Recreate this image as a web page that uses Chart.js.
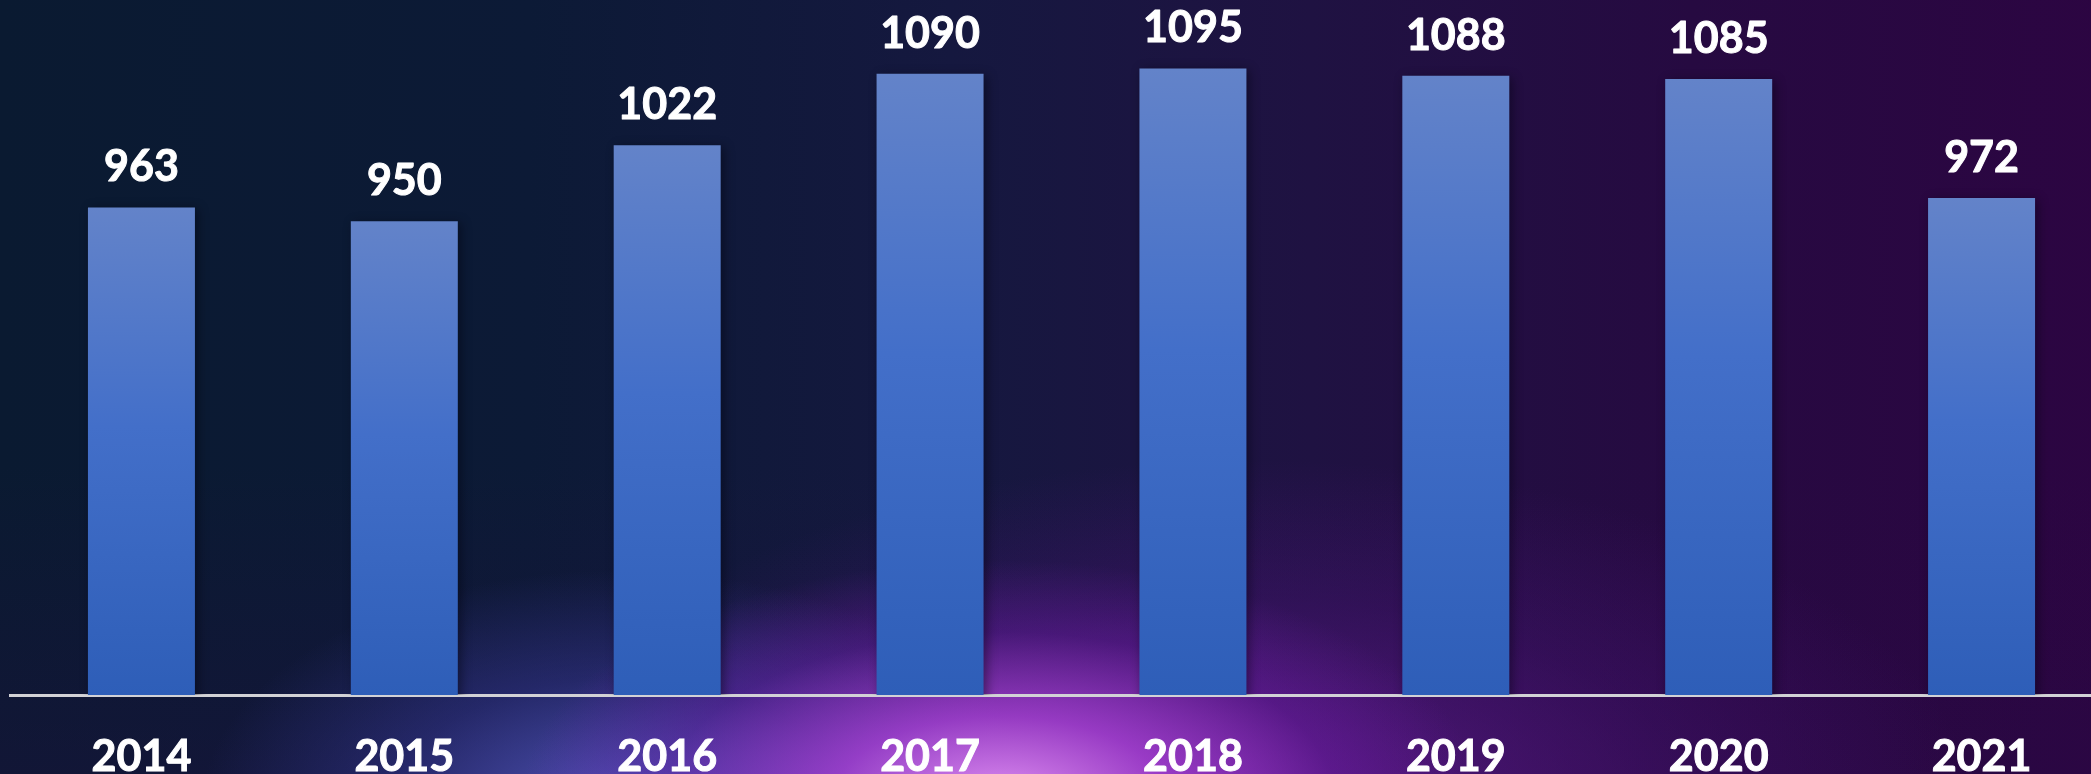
<!DOCTYPE html>
<html>
<head>
<meta charset="utf-8">
<script src="https://cdn.jsdelivr.net/npm/chart.js@4.4.1/dist/chart.umd.min.js"></script>
<style>
  html, body { margin: 0; padding: 0; width: 2091px; height: 774px; overflow: hidden; background: #0b1a32; }
  #wrap {
    position: absolute; left: 0; top: 0; width: 2114px; height: 774px;
    background:
      radial-gradient(ellipse 480px 240px at 1000px 800px, rgba(232,150,250,0.95) 0%, rgba(180,70,225,0.75) 35%, rgba(120,30,180,0.35) 70%, rgba(90,20,150,0) 100%),
      radial-gradient(ellipse 420px 240px at 620px 810px, rgba(95,100,215,0.8) 0%, rgba(65,65,175,0.4) 55%, rgba(40,40,140,0) 100%),
      radial-gradient(ellipse 720px 340px at 1250px 800px, rgba(120,30,170,0.6) 0%, rgba(90,20,140,0.28) 60%, rgba(60,10,100,0) 100%),
      linear-gradient(to bottom, rgba(0,0,0,0) 60%, rgba(40,10,70,0.25) 100%),
      linear-gradient(to right, #0a1a31 0%, #0c1a36 25%, #15183f 45%, #1f1242 62%, #260a41 80%, #2c0542 100%);
  }
  canvas { display: block; }
</style>
</head>
<body>
<div id="wrap"><canvas id="chart" width="2114" height="774"></canvas></div>
<script>
// Years shown along the axis and the count recorded for each year
const years = ['2014', '2015', '2016', '2017', '2018', '2019', '2020', '2021'];
const counts = [963, 950, 1022, 1090, 1095, 1088, 1085, 972];

const labelFont = { family: 'Lato, "Open Sans", sans-serif', weight: 'bold', size: 43 };

// Vertical blue gradient for each bar, lighter at the top
function barGradient(ctx) {
  const chart = ctx.chart;
  const y = chart.scales && chart.scales.y;
  if (!chart.chartArea || !y || ctx.raw === undefined) return '#4a74c8';
  const top = y.getPixelForValue(ctx.raw);
  const bottom = chart.chartArea.bottom;
  const g = chart.ctx.createLinearGradient(0, top, 0, bottom);
  g.addColorStop(0, '#6383c9');
  g.addColorStop(0.45, '#436fc9');
  g.addColorStop(1, '#2e5eb8');
  return g;
}

// Soft shadow behind the bars
const barShadow = {
  id: 'barShadow',
  beforeDatasetsDraw(chart) {
    const c = chart.ctx;
    c.save();
    c.shadowColor = 'rgba(0,0,10,0.45)';
    c.shadowBlur = 10;
    c.shadowOffsetX = 3;
    c.shadowOffsetY = 2;
  },
  afterDatasetsDraw(chart) {
    chart.ctx.restore();
  }
};

// Value written above each bar, with a thin outline to give heavier strokes
const valueLabels = {
  id: 'valueLabels',
  afterDatasetsDraw(chart) {
    const c = chart.ctx;
    const meta = chart.getDatasetMeta(0);
    const data = chart.data.datasets[0].data;
    c.save();
    c.fillStyle = '#ffffff';
    c.strokeStyle = '#ffffff';
    c.lineWidth = 1;
    c.lineJoin = 'round';
    c.font = `${labelFont.weight} ${labelFont.size}px ${labelFont.family}`;
    c.textAlign = 'center';
    c.textBaseline = 'alphabetic';
    meta.data.forEach((bar, i) => {
      c.fillText(String(data[i]), bar.x, bar.y - 26);
      c.strokeText(String(data[i]), bar.x, bar.y - 26);
    });
    c.restore();
  }
};

new Chart(document.getElementById('chart'), {
  type: 'bar',
  data: {
    labels: years,
    datasets: [{
      data: counts,
      backgroundColor: barGradient,
      borderWidth: 0,
      barPercentage: 1,
      categoryPercentage: 0.407
    }]
  },
  options: {
    responsive: false,
    animation: false,
    layout: { padding: { left: 10, right: 1, top: 0, bottom: 0 } },
    plugins: { legend: { display: false }, tooltip: { enabled: false } },
    scales: {
      y: {
        display: false,
        min: 500,
        max: 1160
      },
      x: {
        grid: { display: false, drawTicks: false },
        border: { display: true, color: '#d2d2d6', width: 3 },
        ticks: { color: '#ffffff', font: labelFont, padding: 36, maxRotation: 0, textStrokeColor: '#ffffff', textStrokeWidth: 1 },
        afterFit(scale) { scale.height = 79; }
      }
    }
  },
  plugins: [barShadow, valueLabels]
});
</script>
</body>
</html>
